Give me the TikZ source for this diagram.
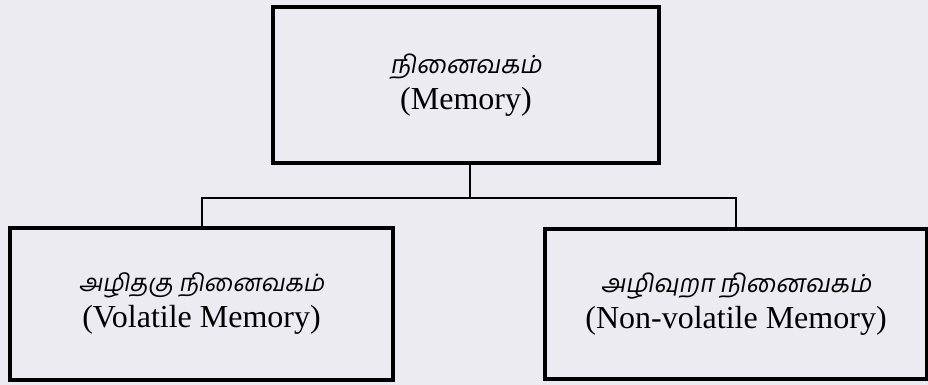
\documentclass[tikz,border=0pt]{standalone}
\usepackage{fontspec}
\setmainfont{Liberation Serif}
\newfontfamily\tamilfont[Script=Tamil,FakeSlant=0.18]{Hind Madurai}
\definecolor{paper}{RGB}{236,235,241}
\begin{document}
\begin{tikzpicture}[x=1pt,y=1pt,
  box/.style={draw=black,line width=4pt,fill=none,align=center,inner sep=0pt,
    font=\fontsize{32}{36}\selectfont},
  conn/.style={draw=black,line width=2pt}]
\fill[paper] (0,0) rectangle (928,385);
\useasboundingbox (0,0) rectangle (928,385);
\node[box,minimum width=386pt,minimum height=156pt] (top) at (466,300)
  {{\tamilfont\fontsize{25}{30}\selectfont நினைவகம்}\\(Memory)};
\node[box,minimum width=383pt,minimum height=152pt] (vol) at (201.5,81)
  {{\tamilfont\fontsize{24}{30}\selectfont அழிதகு நினைவகம்}\\(Volatile Memory)};
\node[box,minimum width=382pt,minimum height=150pt] (nvol) at (736,81)
  {{\tamilfont\fontsize{25}{30}\selectfont அழிவுறா நினைவகம்}\\(Non-volatile Memory)};
\coordinate (j) at (470,187);
\draw[conn] (top.south -| j) -- (j);
\draw[conn] (vol.north) |- (j) -| (nvol.north);
\end{tikzpicture}
\end{document}
